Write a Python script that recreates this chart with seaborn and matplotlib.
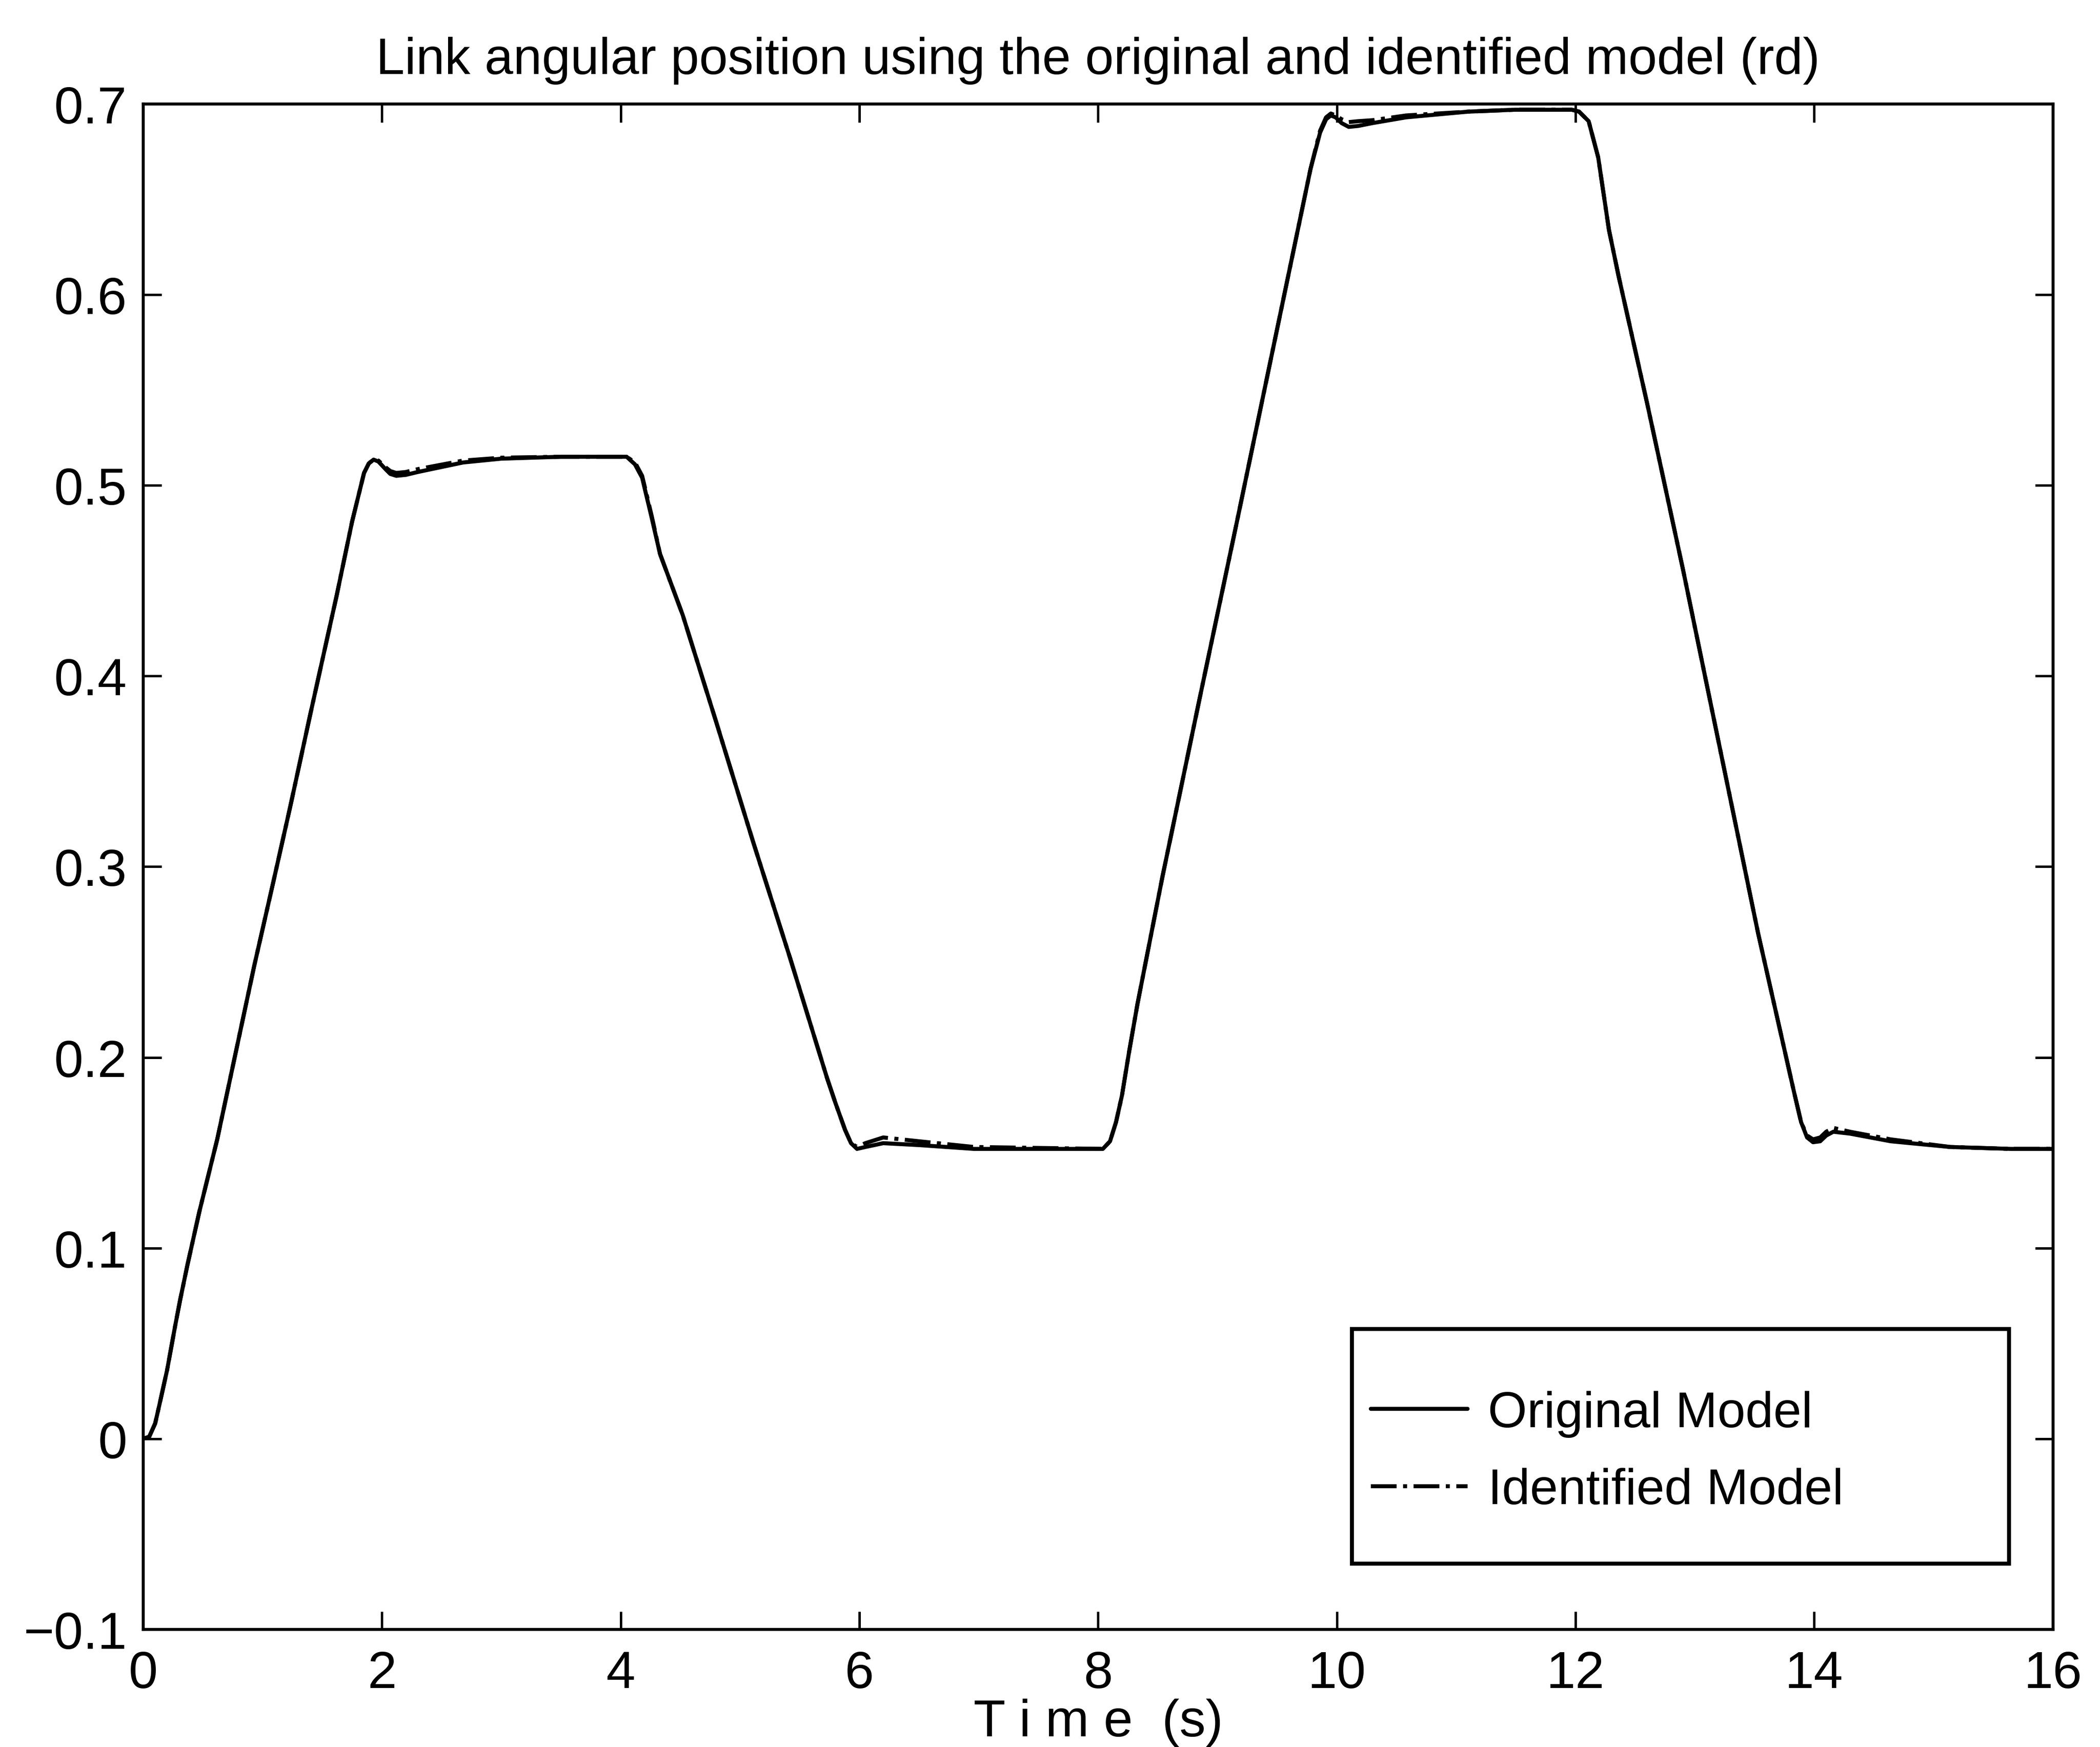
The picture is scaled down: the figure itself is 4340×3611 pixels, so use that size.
import matplotlib
matplotlib.use("Agg")
import matplotlib.pyplot as plt
from matplotlib.patches import Rectangle
import numpy as np
import pandas as pd
import seaborn as sns

# Simulation time (s)
time_s = [0.00, 0.05, 0.10, 0.14, 0.20, 0.27, 0.31, 0.37, 0.47, 0.62, 0.78, 0.93, 1.09, 1.23,
          1.40, 1.62, 1.75, 1.85, 1.89, 1.93, 1.97, 2.03, 2.07, 2.12, 2.20, 2.30, 2.68, 3.00,
          3.50, 4.05, 4.12, 4.18, 4.26, 4.33, 4.52, 4.80, 5.11, 5.42, 5.73, 5.80, 5.88, 5.93,
          5.98, 6.05, 6.20, 6.50, 6.96, 8.04, 8.10, 8.15, 8.20, 8.26, 8.33, 8.54, 8.85, 9.16,
          9.47, 9.78, 9.86, 9.91, 9.95, 9.99, 10.04, 10.10, 10.18, 10.30, 10.58, 11.10, 11.49,
          11.97, 12.03, 12.11, 12.19, 12.28, 12.36, 12.60, 12.90, 13.21, 13.53, 13.83, 13.89,
          13.94, 13.99, 14.05, 14.10, 14.16, 14.30, 14.64, 15.14, 15.65, 16.00]

# Link angular position (rd), original model
original_model = [0.000, 0.001, 0.008, 0.019, 0.036, 0.060, 0.073, 0.091, 0.119, 0.157, 0.204,
                  0.248, 0.292, 0.331, 0.380, 0.442, 0.481, 0.5065, 0.5115, 0.5135, 0.5125,
                  0.5085, 0.506, 0.505, 0.5055, 0.507, 0.512, 0.514, 0.515, 0.515, 0.511, 0.504,
                  0.483, 0.464, 0.432, 0.376, 0.313, 0.252, 0.189, 0.176, 0.162, 0.155, 0.152,
                  0.153, 0.155, 0.154, 0.152, 0.152, 0.156, 0.166, 0.180, 0.203, 0.228, 0.295,
                  0.388, 0.480, 0.573, 0.666, 0.685, 0.692, 0.694, 0.693, 0.690, 0.688, 0.6885,
                  0.690, 0.693, 0.696, 0.697, 0.697, 0.696, 0.691, 0.672, 0.634, 0.610, 0.543,
                  0.456, 0.362, 0.265, 0.182, 0.166, 0.158, 0.1555, 0.156, 0.159, 0.161, 0.160,
                  0.156, 0.153, 0.152, 0.152]

# Link angular position (rd), identified model
identified_model = [0.000, 0.001, 0.008, 0.019, 0.036, 0.060, 0.073, 0.091, 0.119, 0.157, 0.204,
                    0.248, 0.292, 0.331, 0.380, 0.442, 0.481, 0.5065, 0.5115, 0.5135, 0.513,
                    0.5095, 0.5075, 0.5065, 0.507, 0.5085, 0.513, 0.5145, 0.515, 0.515, 0.512,
                    0.505, 0.484, 0.464, 0.432, 0.376, 0.313, 0.252, 0.189, 0.176, 0.162, 0.155,
                    0.153, 0.155, 0.158, 0.156, 0.153, 0.152, 0.156, 0.166, 0.180, 0.203, 0.228,
                    0.295, 0.388, 0.480, 0.573, 0.666, 0.686, 0.693, 0.695, 0.694, 0.692, 0.6905,
                    0.691, 0.6915, 0.694, 0.696, 0.697, 0.697, 0.696, 0.691, 0.672, 0.634, 0.610,
                    0.543, 0.456, 0.362, 0.265, 0.182, 0.166, 0.159, 0.157, 0.158, 0.161, 0.163,
                    0.161, 0.157, 0.153, 0.152, 0.152]

x_ticks = [0, 2, 4, 6, 8, 10, 12, 14, 16]
y_ticks = [-0.1, 0.0, 0.1, 0.2, 0.3, 0.4, 0.5, 0.6, 0.7]
y_tick_labels = ["\u22120.1", "0", "0.1", "0.2", "0.3", "0.4", "0.5", "0.6", "0.7"]
series_labels = ["Original Model", "Identified Model"]

sns.set_theme(style="ticks")
plt.rcParams["font.family"] = ["Liberation Sans", "DejaVu Sans"]
plt.rcParams["axes.linewidth"] = 1.5
plt.rcParams["text.color"] = "black"
plt.rcParams["axes.labelcolor"] = "black"

df = pd.DataFrame({"t": time_s, "orig": original_model, "ident": identified_model})

fig = plt.figure(figsize=(4340 / 300, 3612 / 300), dpi=300)
ax = fig.add_axes([0.0682, 0.0673, 0.9094, 0.8729])

sns.lineplot(data=df, x="t", y="orig", ax=ax, color="black", linewidth=2.0,
             label=series_labels[0], errorbar=None)
sns.lineplot(data=df, x="t", y="ident", ax=ax, color="black", linewidth=2.0,
             linestyle="-.", label=series_labels[1], errorbar=None)

ax.set_xlim(0, 16)
ax.set_ylim(-0.1, 0.7)
ax.set_xticks(x_ticks)
ax.set_xticklabels([str(v) for v in x_ticks])
ax.set_yticks(y_ticks)
ax.set_yticklabels(y_tick_labels)
ax.tick_params(direction="in", length=9, width=1.2, top=True, right=True,
               labelsize=26, colors="black")
ax.tick_params(axis="y", pad=8)
ax.tick_params(axis="x", pad=10)
for s in ax.spines.values():
    s.set_color("black")
    s.set_linewidth(1.5)

ax.set_title("Link angular position using the original and identified model (rd)",
             fontsize=25.5, pad=15, color="black")
ax.set_xlabel("T i m e  (s)", fontsize=26, labelpad=0, color="black")
ax.set_ylabel("")

# legend box
ax.add_patch(Rectangle((0.633, 0.043), 0.344, 0.154, transform=ax.transAxes,
                       facecolor="white", edgecolor="black", linewidth=2.0, zorder=5))
handles, labels = ax.get_legend_handles_labels()
leg = ax.legend(handles, labels, loc="center left", bbox_to_anchor=(0.6428, 0.116),
                frameon=False, fontsize=25, handlelength=1.92, handletextpad=0.4,
                labelspacing=0.6, borderpad=0, borderaxespad=0)
leg.set_zorder(6)
for txt in leg.get_texts():
    txt.set_color("black")

fig.savefig("out.png", dpi=300, facecolor="white")
